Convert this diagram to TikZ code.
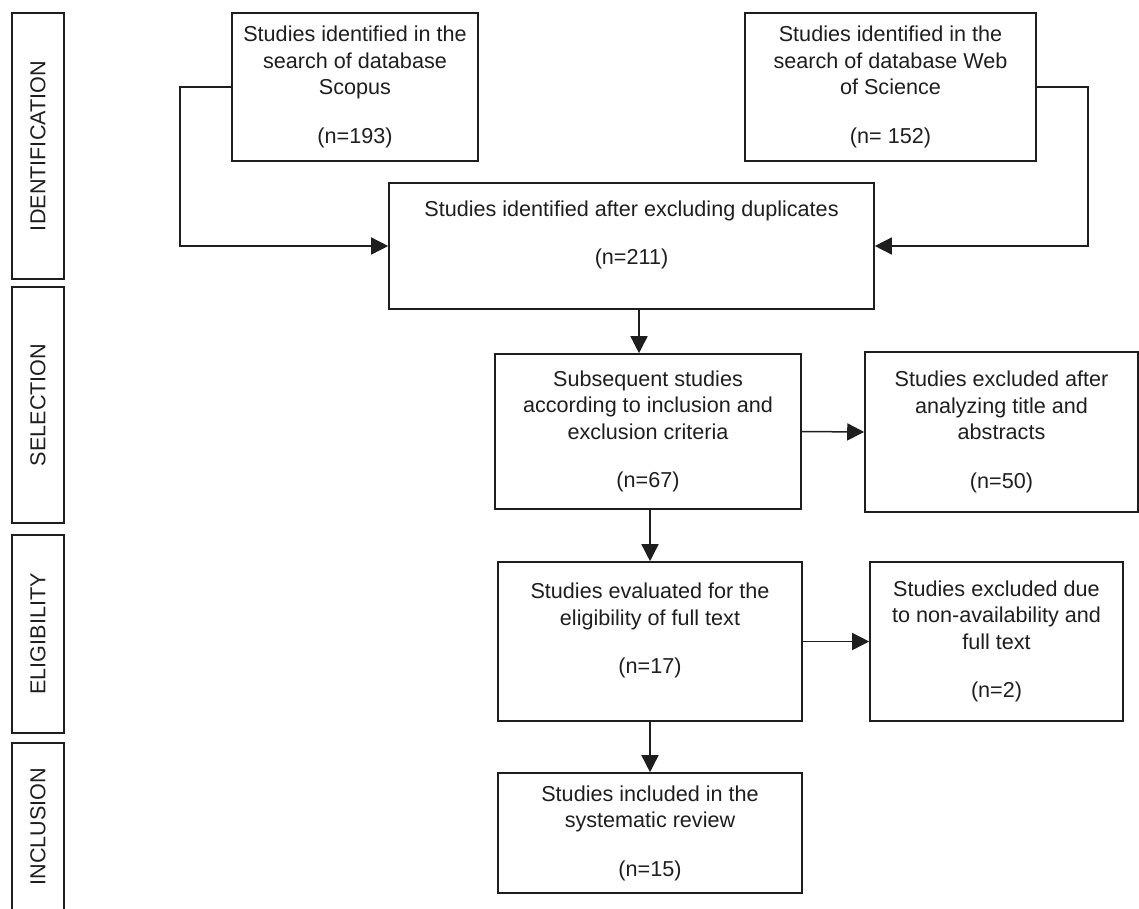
\documentclass[tikz,border=0pt]{standalone}
\usepackage{fontspec}
\setmainfont{Liberation Sans}
\usetikzlibrary{arrows.meta}
\definecolor{ink}{HTML}{1E1E1E}
\tikzset{
    stepbox/.style={draw=ink, line width=1.6pt, inner sep=0pt, align=center, text=ink,
        font=\fontsize{21.6pt}{26.5pt}\selectfont},
    phase/.style={draw=ink, line width=1.6pt, inner sep=0pt, rotate=90, text=ink,
        minimum height=52pt, font=\fontsize{21.6pt}{26.5pt}\selectfont},
    flow/.style={draw=ink, line width=1.5pt, -{Triangle[length=17pt,width=17pt]}}
}
\begin{document}
\begin{tikzpicture}[x=1pt, y=-1pt]
            \useasboundingbox (0,0) rectangle (1139,908);
            \clip (0,0) rectangle (1139,908);
            % phase labels on the left
            \foreach \name/\txt/\top/\bot in {lblident/IDENTIFICATION/13/279, lblsel/SELECTION/287/523,
                    lbleli/ELIGIBILITY/535/733, lblinc/INCLUSION/743/910} {
                    \node[phase, minimum width={(\bot-\top)*1pt}] (\name) at (38, {(\top+\bot)/2}) {\txt};
                }
            % boxes
            \node[stepbox, minimum width=246pt, minimum height=148pt] (scopus) at (355, 87)
                {Studies identified in the\\search of database\\Scopus\\[22pt](n=193)};
            \node[stepbox, minimum width=291pt, minimum height=148pt] (wos) at (890.5, 87)
                {Studies identified in the\\search of database Web\\of Science\\[22pt](n= 152)};
            \node[stepbox, minimum width=485pt, minimum height=126pt] (dup) at (631.5, 246)
                {Studies identified after excluding duplicates\\[22pt](n=211)\\ \mbox{}};
            \node[stepbox, minimum width=306pt, minimum height=155pt] (sub) at (648, 431.5)
                {Subsequent studies\\according to inclusion and\\exclusion criteria\\[22pt](n=67)};
            \node[stepbox, minimum width=273pt, minimum height=160pt] (exclA) at (1001.5, 432)
                {Studies excluded after\\analyzing title and\\abstracts\\[22pt](n=50)};
            \node[stepbox, minimum width=304pt, minimum height=159pt] (elig) at (650, 641.5)
                {Studies evaluated for the\\eligibility of full text\\[22pt](n=17)\\ \mbox{}};
            \node[stepbox, minimum width=253pt, minimum height=159pt] (exclB) at (996.5, 641.5)
                {Studies excluded due\\to non-availability and\\full text\\[22pt](n=2)};
            \node[stepbox, minimum width=304pt, minimum height=120pt] (incl) at (650, 833)
                {Studies included in the\\systematic review\\[22pt](n=15)};
            % connectors
            \draw[flow] (scopus.west) -- ++(-51, 0) |- (dup.west);
            \draw[flow] (wos.east) -- ++(51, 0) |- (dup.east);
            \draw[flow] ([xshift=-9pt]sub.north |- dup.south) -- ([xshift=-9pt]sub.north);
            \draw[flow] (sub.east) -- (exclA.west);
            \draw[flow] (sub.south -| elig.north) -- (elig.north);
            \draw[flow] (elig.east) -- (exclB.west);
            \draw[flow] (elig.south) -- (incl.north);
        \end{tikzpicture}
\end{document}
